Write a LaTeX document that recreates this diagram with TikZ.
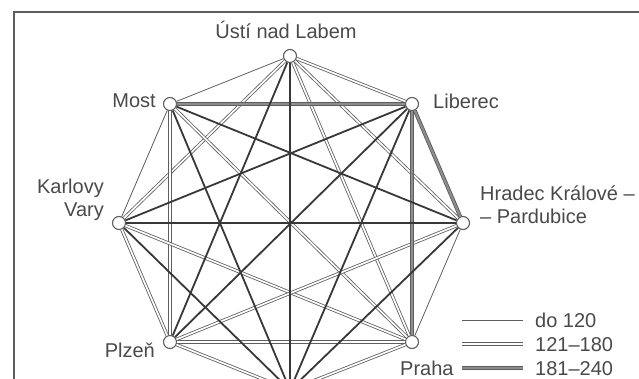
\documentclass[tikz,border=0pt]{standalone}
\usepackage{fontspec}
\setmainfont{Liberation Sans}
\definecolor{ink}{HTML}{4A4A4A}
\definecolor{dark}{HTML}{383838}
\definecolor{mid}{HTML}{5E5E5E}
\definecolor{band}{HTML}{8E8E8E}
\tikzset{
  city/.style={circle, draw=mid, fill=white, line width=1.1pt, minimum size=13pt, inner sep=0pt},
  lbl/.style={text=ink, font=\fontsize{20}{23}\selectfont, inner sep=0pt},
  tone/.style={draw=mid, line width=0.8pt},
  ttwo/.style={draw=mid, line width=0.8pt, double=white, double distance=1.7pt},
  tthree/.style={draw=mid, line width=0.9pt, double=band, double distance=2pt},
  tfour/.style={draw=dark, line width=1.8pt},
  frameline/.style={draw=mid, line width=1.6pt}
}
\begin{document}
\begin{tikzpicture}[x=1pt,y=-1pt]
\useasboundingbox (0,0) rectangle (639,379);
\clip (0,0) rectangle (639,379);
\fill[white] (0,0) rectangle (639,379);
% frame
\coordinate (ftl) at (14,12);
\coordinate (ftr) at (640,12);
\coordinate (fbl) at (14,380);
\draw[frameline] (ftr) -- (ftl) -- (fbl);
% cities
\node[city] (u) at (290,56) {};
\node[city] (m) at (170,104) {};
\node[city] (l) at (412,104) {};
\node[city] (k) at (119,223) {};
\node[city] (h) at (463,223) {};
\node[city] (pl) at (170,342) {};
\node[city] (p) at (412,342) {};
\node[city] (b) at (290,390) {};
% labels
\node[lbl, anchor=base] (tu) at (286,39) {Ústí nad Labem};
\node[lbl, anchor=base east] (tm) at (156,108) {Most};
\node[lbl, anchor=base west] (tl) at (433,109) {Liberec};
\node[lbl, anchor=base east, align=right] (tk) at (104,217) {Karlovy\\Vary};
\node[lbl, anchor=base west, align=left] (th) at (480,224) {Hradec Králové –\\– Pardubice};
\node[lbl, anchor=base east] (tpl) at (155,357) {Plzeň};
\node[lbl, anchor=base west] (tp) at (400,375) {Praha};
% edges: up to 120
\draw[tone] (u) -- (m);
\draw[tone] (m) -- (k);
\draw[tone] (h) -- (p);
% 121-180
\draw[ttwo] (u) -- (l);
\draw[ttwo] (u) -- (k);
\draw[ttwo] (u) -- (h);
\draw[ttwo] (u) -- (p);
\draw[ttwo] (m) -- (pl);
\draw[ttwo] (m) -- (p);
\draw[ttwo] (k) -- (pl);
\draw[ttwo] (k) -- (p);
\draw[ttwo] (h) -- (pl);
\draw[ttwo] (pl) -- (p);
\draw[ttwo] (pl) -- (b);
\draw[ttwo] (p) -- (b);
% 181-240
\draw[tthree] (m) -- (l);
\draw[tthree] (l) -- (h);
\draw[tthree] (l) -- (p);
% longest
\draw[tfour] (u) -- (pl);
\draw[tfour] (u) -- (b);
\draw[tfour] (m) -- (h);
\draw[tfour] (m) -- (b);
\draw[tfour] (l) -- (k);
\draw[tfour] (l) -- (pl);
\draw[tfour] (l) -- (b);
\draw[tfour] (k) -- (h);
\draw[tfour] (k) -- (b);
\draw[tfour] (h) -- (b);
% legend
\node[lbl, anchor=base west] (g1) at (535,327) {do 120};
\node[lbl, anchor=base west] (g2) at (535,351) {121–180};
\node[lbl, anchor=base west] (g3) at (535,375) {181–240};
\coordinate (a1) at (462,320.5);
\coordinate (b1) at (523,320.5);
\coordinate (a2) at (462,344);
\coordinate (b2) at (523,344);
\coordinate (a3) at (462,368);
\coordinate (b3) at (523,368);
\draw[tone] (a1) -- (b1);
\draw[ttwo] (a2) -- (b2);
\draw[tthree] (a3) -- (b3);
\end{tikzpicture}
\end{document}
